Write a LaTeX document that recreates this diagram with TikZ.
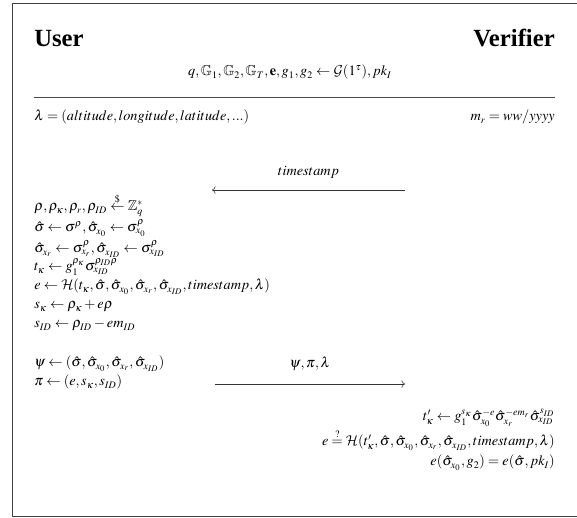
\documentclass[tikz,border=0pt]{standalone}
\usepackage{amsmath}
\usepackage{mathptmx}
\usepackage{amssymb}
\usepackage[no-math]{fontspec}
\setmainfont{Liberation Serif}
\DeclareMathAlphabet{\mathcal}{OMS}{cmsy}{m}{n}
\DeclareMathSizes{10}{10}{7}{6}
\usetikzlibrary{positioning, arrows.meta}

\tikzset{
    party/.style={inner sep=0pt, font=\LARGE\bfseries},
    mathline/.style={inner sep=0pt},
    userline/.style={inner sep=0pt, anchor=base west},
    verline/.style={inner sep=0pt, anchor=base east},
    msg/.style={->, thin, black!80},
}

\begin{document}
\begin{tikzpicture}[x=0.7pt, y=-0.7pt]
    \useasboundingbox (0,0) rectangle (577,518);
    % --- Frame ---
    \draw[black!75, line width=0.6pt] (12,3) rectangle (590,516);

    % --- Header ---
    \node[party, anchor=base west] (user) at (34,47) {User};
    \node[party, anchor=base east] (verifier) at (555,47) {Verifier};
    \node[mathline, anchor=base] (setup) at (290,76)
        {$q, \mathbb{G}_1, \mathbb{G}_2, \mathbb{G}_T, \mathbf{e}, g_1, g_2 \leftarrow \mathcal{G}(1^{\tau}), pk_I$};
    \coordinate (ruleL) at (34,97);
    \coordinate (ruleR) at (555,97);
    \draw[black!70, line width=0.6pt] (ruleL) -- (ruleR);

    % --- Public values ---
    \node[userline] (lambdadef) at (34,121)
        {$\lambda = (altitude, longitude, latitude, ...)$};
    \node[verline] (mrdef) at (555,121) {$m_r = ww/yyyy$};

    % --- Verifier -> User: timestamp ---
    \coordinate (tsR) at (405,190);
    \coordinate (tsL) at (212,190);
    \draw[msg] (tsR) -- (tsL) node[midway, above=4.5pt, black] (tslabel) {$timestamp$};

    % --- User computations ---
    \node[userline] (pick)  at (34,211) {$\rho, \rho_\kappa, \rho_r, \rho_{ID} \stackrel{\$}{\leftarrow} \mathbb{Z}_q^*$};
    \node[userline] (blind) at (34,232) {$\hat{\sigma} \leftarrow \sigma^{\rho}, \hat{\sigma}_{x_0} \leftarrow \sigma_{x_0}^{\rho}$};
    \node[userline] (blindr) at (34,253) {$\hat{\sigma}_{x_r} \leftarrow \sigma_{x_r}^{\rho}, \hat{\sigma}_{x_{ID}} \leftarrow \sigma_{x_{ID}}^{\rho}$};
    \node[userline] (commit) at (34,271) {$t_\kappa \leftarrow g_1^{\rho_\kappa} \sigma_{x_{ID}}^{\rho_{ID}\rho}$};
    \node[userline] (chal)  at (34,290) {$e \leftarrow \mathcal{H}(t_\kappa, \hat{\sigma}, \hat{\sigma}_{x_0}, \hat{\sigma}_{x_r}, \hat{\sigma}_{x_{ID}}, timestamp, \lambda)$};
    \node[userline] (respk) at (34,309) {$s_\kappa \leftarrow \rho_\kappa + e\rho$};
    \node[userline] (respid) at (34,328) {$s_{ID} \leftarrow \rho_{ID} - em_{ID}$};
    \node[userline] (psidef) at (34,367) {$\psi \leftarrow (\hat{\sigma}, \hat{\sigma}_{x_0}, \hat{\sigma}_{x_r}, \hat{\sigma}_{x_{ID}})$};
    \node[userline] (pidef) at (34,386) {$\pi \leftarrow (e, s_\kappa, s_{ID})$};

    % --- User -> Verifier: proof ---
    \coordinate (pfL) at (215,384);
    \coordinate (pfR) at (405,384);
    \draw[msg] (pfL) -- (pfR) node[midway, above=6pt, black] (pflabel) {$\psi, \pi, \lambda$};

    % --- Verifier checks ---
    \node[verline] (recommit) at (555,421) {$t'_\kappa \leftarrow g_1^{s_\kappa} \hat{\sigma}_{x_0}^{-e} \hat{\sigma}_{x_r}^{-em_r} \hat{\sigma}_{x_{ID}}^{s_{ID}}$};
    \node[verline] (hashchk) at (555,446) {$e \stackrel{?}{=} \mathcal{H}(t'_\kappa, \hat{\sigma}, \hat{\sigma}_{x_0}, \hat{\sigma}_{x_r}, \hat{\sigma}_{x_{ID}}, timestamp, \lambda)$};
    \node[verline] (pairchk) at (555,466) {$e(\hat{\sigma}_{x_0}, g_2) = e(\hat{\sigma}, pk_I)$};
\end{tikzpicture}
\end{document}
